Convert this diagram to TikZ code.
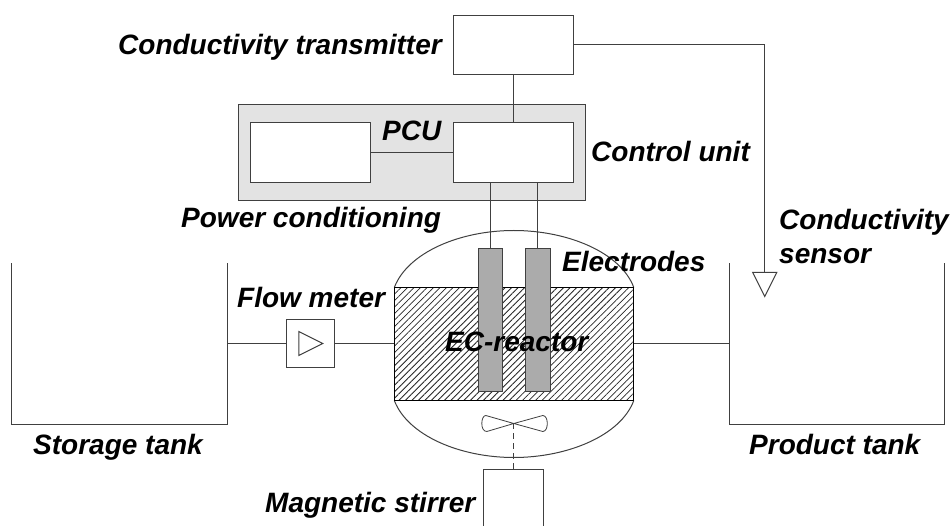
\documentclass[tikz,border=0pt]{standalone}
\usepackage{fontspec}
\setmainfont{Liberation Sans}
\usetikzlibrary{patterns.meta}
\definecolor{ln}{HTML}{404040}
\tikzset{
 x=1pt,y=-1pt,
 ln/.style={draw=ln,line width=1pt},
 box/.style={ln,fill=white,inner sep=0pt,outer sep=0pt,rectangle},
 lbl/.style={inner sep=0pt,font=\fontsize{28}{32}\selectfont\bfseries\itshape,text=black,anchor=base west,align=left},
 electrode/.style={box,fill=black!33,minimum width=24.5pt,minimum height=143pt},
}
\begin{document}
\begin{tikzpicture}
\useasboundingbox (0,0) rectangle (951,526);
\begin{scope}[shift={(-0.2pt,-0.5pt)}]
% vessel
\path[ln,fill=white] (394.5,287) .. controls (408,252) and (460,230) .. (514,230) .. controls (568,230) and (621,252) .. (634,287);
\path[ln,fill=white] (394.5,400) .. controls (408,435) and (460,457) .. (514,457) .. controls (568,457) and (621,435) .. (634,400);
\node[box,minimum width=239.5pt,minimum height=113pt,pattern={Lines[angle=45,distance=4.6pt,line width=0.8pt]},pattern color=black!85,draw=black] (liquid) at (514.25,343.5) {};
% PCU
\node[box,fill=black!11,minimum width=347pt,minimum height=96pt] (pcu) at (412.5,152) {};
\node[box,minimum width=120pt,minimum height=60pt] (power) at (311,152) {};
\node[box,minimum width=120pt,minimum height=60pt] (control) at (514,152) {};
\node[box,minimum width=120pt,minimum height=59pt] (trans) at (514,44.5) {};
% electrodes
\node[electrode] (e1) at (490.5,319.5) {};
\node[electrode] (e2) at (538,319.5) {};
% sensor
\coordinate (s) at (765,272);
\path[box] (753,272) -- (777,272) -- (765,296) -- cycle;
\draw[ln] (trans.east |- 0,44) -- (765,44) -- (s);
\draw[ln] (trans.south) -- (control.north);
\draw[ln] (power.east) -- (control.west);
\draw[ln] (control.south -| e1.north) -- (e1.north);
\draw[ln] (control.south -| e2.north) -- (e2.north);
% flow meter
\node[box,minimum width=48pt,minimum height=48pt] (fm) at (311,343) {};
\path[ln] (299,331) -- (323,343) -- (299,355) -- cycle;
% tanks
\coordinate (lt) at (228,343);
\coordinate (rt) at (730,343);
\draw[ln] (12,263) -- (12,424) -- (228,424) -- (228,263);
\draw[ln] (730,263) -- (730,424) -- (945,424) -- (945,263);
\draw[ln] (lt) -- (fm.west);
\draw[ln] (fm.east) -- (liquid.west |- fm.east);
\draw[ln] (liquid.east |- rt) -- (rt);
% stirrer
\coordinate (hub) at (514,423);
\coordinate (st) at (514,469);
\draw[ln] (484,527) -- (484,469) -- (544,469) -- (544,527);
\draw[ln,dash pattern=on 6pt off 4pt] (hub) -- (st);
\draw[ln,line width=0.8pt] (hub) -- (486,415) .. controls (481,415) and (480,431) .. (487,431) -- (hub) -- (543,415) .. controls (549,415) and (549,431) .. (543,431) -- cycle;
\end{scope}
% labels
\node[lbl] (t1) at (118,55) {Conductivity transmitter};
\node[lbl] (t2) at (382,141) {PCU};
\node[lbl] (t3) at (591,162) {Control unit};
\node[lbl] (t4) at (181,228) {Power conditioning};
\node[lbl] (t5) at (779,230) {Conductivity};
\node[lbl] (t6) at (779,264) {sensor};
\node[lbl] (t7) at (562,272) {Electrodes};
\node[lbl] (t8) at (237,308) {Flow meter};
\node[lbl] (t9) at (445,352) {EC-reactor};
\node[lbl] (t10) at (33,455) {Storage tank};
\node[lbl] (t11) at (749,455) {Product tank};
\node[lbl] (t12) at (265,513) {Magnetic stirrer};
\end{tikzpicture}
\end{document}
